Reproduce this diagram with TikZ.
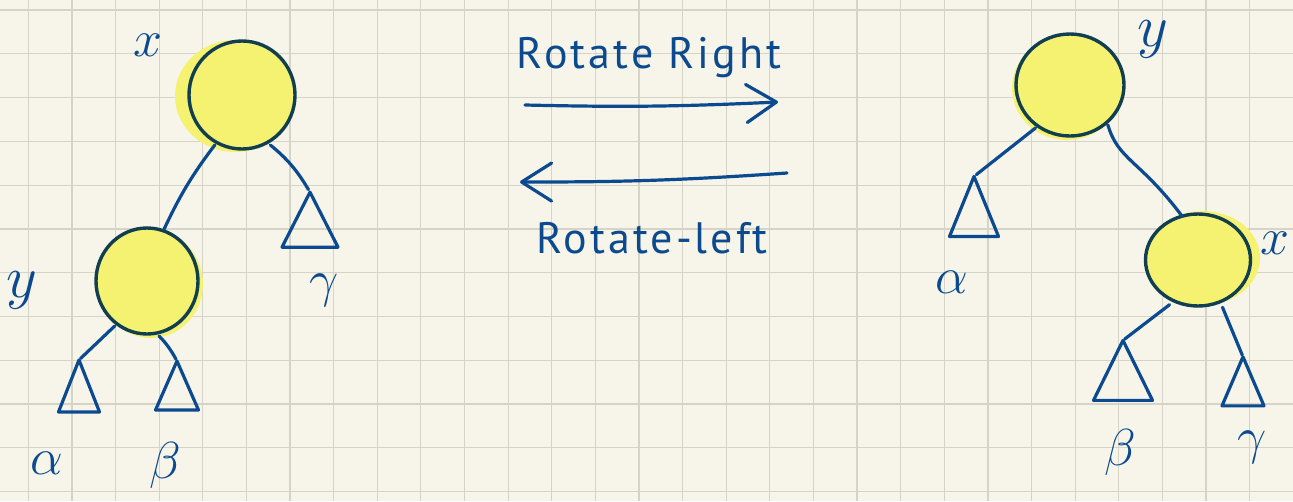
\RequirePackage{fix-cm}
\documentclass[tikz,border=0pt]{standalone}
\usepackage{fontspec}
\setmainfont{PT Sans}
\usetikzlibrary{arrows.meta,shapes.geometric,calc}
\definecolor{paper}{HTML}{F7F5EA}
\definecolor{gridc}{HTML}{D6D4C6}
\definecolor{ink}{HTML}{0B4A8E}
\definecolor{hl}{HTML}{F5F272}
\definecolor{rim}{HTML}{123F50}
\begin{document}
\begin{tikzpicture}[x=1pt,y=-1pt,
  every node/.style={inner sep=0pt, outer sep=0pt},
  keynode/.style={ellipse, draw=rim, line width=3.4pt, fill=hl},
  edge/.style={draw=ink, line width=3.2pt, line cap=round},
  subtree/.style={isosceles triangle, isosceles triangle stretches, shape border rotate=90,
    draw=ink, line width=3.2pt, line join=round},
  lbl/.style={text=ink, font=\fontsize{52}{52}\selectfont},
  ylbl/.style={text=ink, font=\fontsize{60}{60}\selectfont},
  captxt/.style={text=ink, font=\fontsize{44}{48}\selectfont\addfontfeature{LetterSpace=7}},
  arr/.style={draw=ink, line width=3.2pt, line cap=round,
    -{Straight Barb[length=30pt,width=38pt,round]}}
]
\useasboundingbox (0,0) rectangle (1293,501);
\fill[paper] (0,0) rectangle (1293,501);
\foreach \i in {0,...,28} \draw[gridc, line width=1.2pt] ({28.3+43.62*\i},0) -- ++(0,501);
\foreach \j in {0,...,11} \draw[gridc, line width=1.2pt] (0,{10+43.78*\j}) -- ++(1293,0);

% ---------- left tree ----------
\fill[hl] (235,96) ellipse [x radius=60pt, y radius=56pt];
\node[keynode, minimum width=106pt, minimum height=108pt] (lx) at (242,95) {};
\fill[hl] (151,284) ellipse [x radius=52pt, y radius=54pt];
\node[keynode, minimum width=102pt, minimum height=106pt] (ly) at (147,281) {};
\node[lbl] (lxl) at (148,45) {$x$};
\node[ylbl] (lyl) at (22,290) {$y$};

\node[subtree, minimum width=41pt, minimum height=52pt] (la) at (79,398) {};
\node[subtree, minimum width=43pt, minimum height=49pt] (lb) at (177,396) {};
\node[subtree, minimum width=56pt, minimum height=55pt] (lg) at (310,230) {};
\node[lbl] (lal) at (47,463) {$\alpha$};
\node[lbl] (lbl) at (165,465) {$\beta$};
\node[lbl] (lgl) at (324,290) {$\gamma$};

\draw[edge, shorten <=3pt, shorten >=2pt] (lx.-118) to[bend right=6] (ly.72);
\draw[edge, shorten <=4pt, shorten >=3pt] (lx.-62) to[bend left=10] (lg.apex);
\draw[edge, shorten <=3pt, shorten >=2pt] (ly.-125) -- (la.apex);
\draw[edge, shorten <=4pt, shorten >=2pt] (ly.-80) to[bend left=8] (lb.apex);

% ---------- middle ----------
\node[captxt] (rr) at (649,58) {Rotate Right};
\node[captxt] (rl) at (652,238) {Rotate-left};
\coordinate (r1) at (525,105);
\coordinate (r2) at (778,102);
\coordinate (l1) at (787,173);
\coordinate (l2) at (520,182);
\draw[arr] (r1) to[bend right=2] (r2);
\draw[arr] (l1) to[bend left=2] (l2);

% ---------- right tree ----------
\fill[hl] (1067,88) ellipse [x radius=55pt, y radius=52pt];
\node[keynode, minimum width=108pt, minimum height=102pt] (ry) at (1070,85) {};
\fill[hl] (1203,258) ellipse [x radius=57pt, y radius=47pt];
\node[keynode, minimum width=105pt, minimum height=92pt] (rx) at (1198,260) {};
\node[ylbl] (ryl) at (1153,39) {$y$};
\node[lbl] (rxl) at (1275,243) {$x$};

\node[subtree, minimum width=49pt, minimum height=60pt] (ra) at (974,220) {};
\node[subtree, minimum width=59pt, minimum height=60pt] (rb) at (1123,382) {};
\node[subtree, minimum width=42pt, minimum height=49pt] (rg) at (1243,392) {};
\node[lbl] (ral) at (952,282) {$\alpha$};
\node[lbl] (rbl) at (1120,452) {$\beta$};
\node[lbl] (rgl) at (1252,447) {$\gamma$};

\draw[edge, shorten <=3pt, shorten >=3pt] (ry.-128) -- (ra.apex);
\draw[edge, shorten <=3pt, shorten >=0pt] (ry.-45) .. controls (1118,160) and (1140,160) .. (rx.110);
\draw[edge, shorten <=6pt, shorten >=2pt] (rx.-120) -- (rb.apex);
\draw[edge, shorten <=6pt, shorten >=2pt] (rx.-62) -- (rg.apex);
\end{tikzpicture}
\end{document}
